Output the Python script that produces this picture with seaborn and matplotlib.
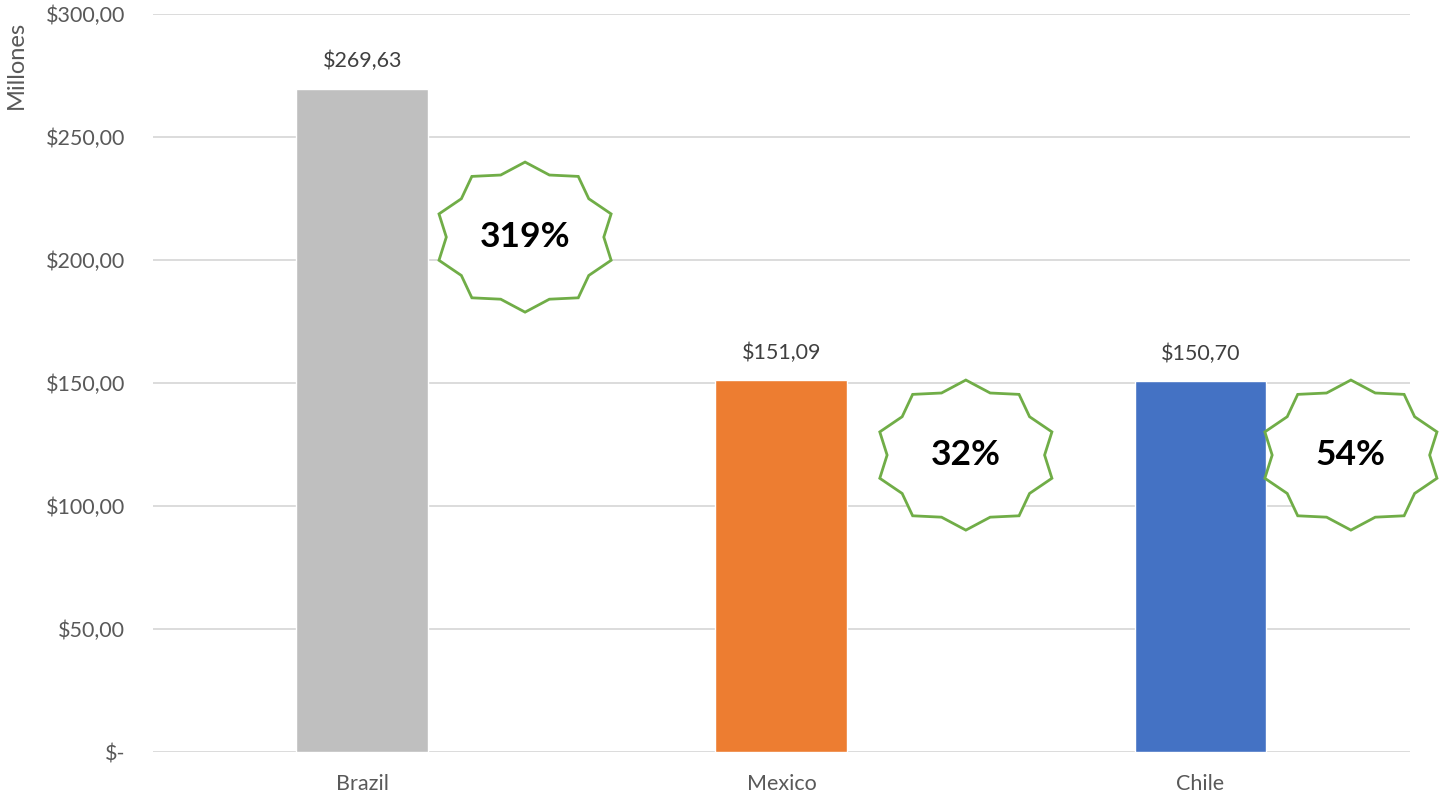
import numpy as np
import pandas as pd
import matplotlib
matplotlib.use('Agg')
import matplotlib.pyplot as plt
import seaborn as sns
from matplotlib.patches import Polygon

# data
countries = ['Brazil', 'Mexico', 'Chile']
values = [269.63, 151.09, 150.70]
growth = ['319%', '32%', '54%']
bar_colors = ['#BFBFBF', '#ED7D31', '#4472C4']

# where the star callouts sit (x offset from bar, y in data units)
star_dx = [0.388, 0.44, 0.359]
star_y = [209.3, 120.7, 120.7]

df = pd.DataFrame({'Country': countries, 'Value': values})

sns.set_style('white')
plt.rcParams['font.family'] = ['Lato', 'DejaVu Sans']

fig = plt.figure(figsize=(14.46, 7.98), dpi=100)
ax = fig.add_axes([0.1058, 0.0576, 0.8693, 0.9249])

sns.barplot(data=df, x='Country', y='Value', hue='Country', palette=bar_colors,
            width=0.315, legend=False, ax=ax, saturation=1)

ax.set_ylim(0, 300)
ax.set_xlim(-0.5, 2.5)
ax.set_yticks(np.arange(0, 301, 50))
ax.set_yticklabels(['$-'] + ['${:,.2f}'.format(v).replace('.', ',') for v in np.arange(50, 301, 50)])
ax.yaxis.grid(True, color='#D9D9D9', linewidth=1.3)
ax.set_axisbelow(True)
for s in ax.spines.values():
    s.set_visible(False)
ax.tick_params(axis='both', length=0, labelsize=15.5, labelcolor='#595959')
ax.tick_params(axis='y', pad=20)
ax.tick_params(axis='x', pad=16)
ax.set_xlabel('')
ax.set_ylabel('Millones', fontsize=17, color='#595959')
ax.yaxis.set_label_coords(-0.1, 0.99, transform=ax.transAxes)
ax.yaxis.label.set_horizontalalignment('right')

# value labels on top of bars
for i, v in enumerate(values):
    ax.text(i, v + 7, '${:.2f}'.format(v).replace('.', ','), ha='center', va='bottom',
            fontsize=15.5, color='#404040')

# 10-point star callouts
rx, ry = 0.216, 30.5
ang_out = np.deg2rad(90 + 36 * np.arange(10))
ang_in = ang_out + np.deg2rad(18)
for i, g in enumerate(growth):
    cx, cy = i + star_dx[i], star_y[i]
    pts = []
    for a, b in zip(ang_out, ang_in):
        pts.append((cx + rx * np.cos(a), cy + ry * np.sin(a)))
        pts.append((cx + 0.87 * rx * np.cos(b), cy + 0.87 * ry * np.sin(b)))
    star = Polygon(pts, closed=True, facecolor='white', edgecolor='#70AD47',
                   linewidth=2, clip_on=False, zorder=5)
    ax.add_patch(star)
    ax.text(cx, cy, g, ha='center', va='center', fontsize=25.5, fontweight='bold',
            color='black', zorder=6)

fig.savefig('out.png', dpi=100)
